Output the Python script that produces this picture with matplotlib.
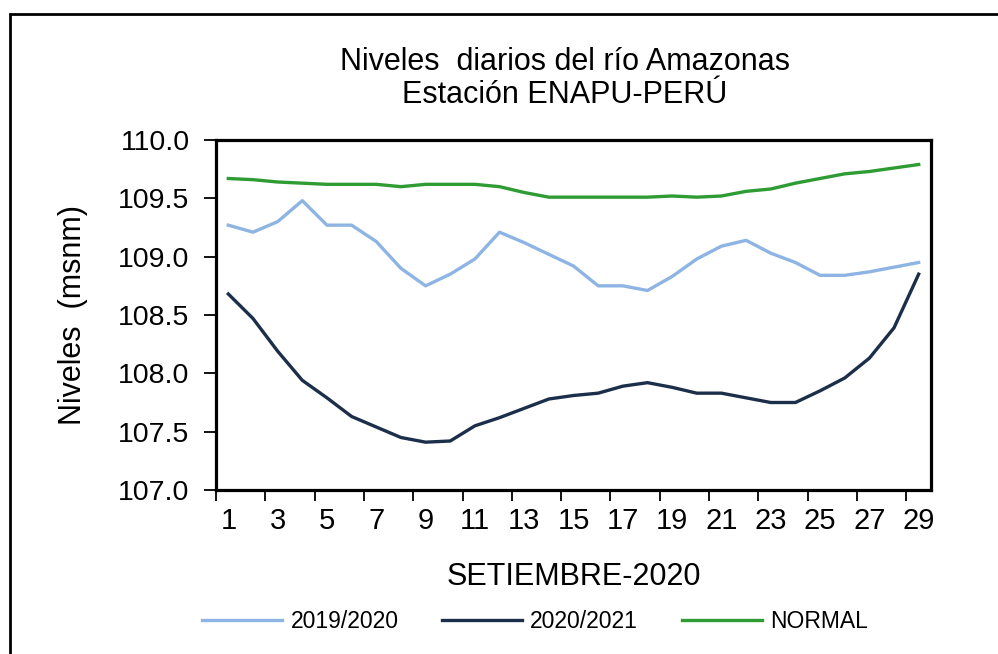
import matplotlib
matplotlib.use("Agg")
import matplotlib.pyplot as plt
from matplotlib.patches import Rectangle
import numpy as np

plt.rcParams['font.family'] = ['Liberation Sans', 'DejaVu Sans']

days = list(range(1, 30))
serie_2019_2020 = [109.27, 109.21, 109.30, 109.48, 109.27, 109.27, 109.13, 108.90, 108.75, 108.85,
                   108.98, 109.21, 109.12, 109.02, 108.92, 108.75, 108.75, 108.71, 108.83, 108.98,
                   109.09, 109.14, 109.03, 108.95, 108.84, 108.84, 108.87, 108.91, 108.95]
serie_2020_2021 = [108.68, 108.47, 108.19, 107.94, 107.79, 107.63, 107.54, 107.45, 107.41, 107.42,
                   107.55, 107.62, 107.70, 107.78, 107.81, 107.83, 107.89, 107.92, 107.88, 107.83,
                   107.83, 107.79, 107.75, 107.75, 107.85, 107.96, 108.13, 108.39, 108.85]
serie_normal = [109.67, 109.66, 109.64, 109.63, 109.62, 109.62, 109.62, 109.60, 109.62, 109.62,
                109.62, 109.60, 109.55, 109.51, 109.51, 109.51, 109.51, 109.51, 109.52, 109.51,
                109.52, 109.56, 109.58, 109.63, 109.67, 109.71, 109.73, 109.76, 109.79]
labels = ["2019/2020", "2020/2021", "NORMAL"]
colors = ["#8DB4E2", "#1B2F4A", "#2E9B33"]

W, H = 998, 654
fig = plt.figure(figsize=(W/100, H/100), dpi=100)
ax = fig.add_axes([216/W, 1-490/H, (931-216)/W, (490-140)/H])

for vals, lab, col in zip([serie_2019_2020, serie_2020_2021, serie_normal], labels, colors):
    ax.plot(days, vals, color=col, lw=2.4, label=lab, solid_joinstyle='round')

ax.set_xlim(0.5, 29.5)
ax.set_ylim(107.0, 110.0)
yt = np.arange(107.0, 110.01, 0.5)
ax.set_yticks(yt)
ax.set_yticklabels([f"{v:.1f}" for v in yt])
ax.set_xticks(days[::2])
ax.set_xticklabels([str(d) for d in days[::2]])
ax.set_xticks(np.arange(0.5, 29.0, 2), minor=True)
ax.tick_params(axis='x', which='major', length=0, labelsize=21, pad=12)
ax.tick_params(axis='x', which='minor', length=8, width=1.3, direction='out')
ax.tick_params(axis='y', which='major', length=9, width=1.3, direction='out', labelsize=20.5, pad=10)
for s in ax.spines.values():
    s.set_linewidth(2.3)
    s.set_color('black')

ax.set_xlabel("SETIEMBRE-2020", fontsize=22, labelpad=20)
ax.set_ylabel("Niveles  (msnm)", fontsize=22, labelpad=22)

fig.text(565/W, 1-62/H, "Niveles  diarios del río Amazonas", fontsize=22, ha='center', va='center')
fig.text(565/W, 1-95/H, "Estación ENAPU-PERÚ", fontsize=22, ha='center', va='center')

leg = fig.legend(loc='center', bbox_to_anchor=(535/W, 1-622/H), ncol=3, frameon=False,
                 fontsize=16.5, handlelength=3.5, handletextpad=0.35, columnspacing=1.9)

fig.patches.append(Rectangle((10/W, -0.1), 1.2, 1-14/H+0.1, transform=fig.transFigure,
                             fill=False, edgecolor='black', lw=2.0, figure=fig))

fig.savefig("out.png", dpi=100, facecolor='white')
